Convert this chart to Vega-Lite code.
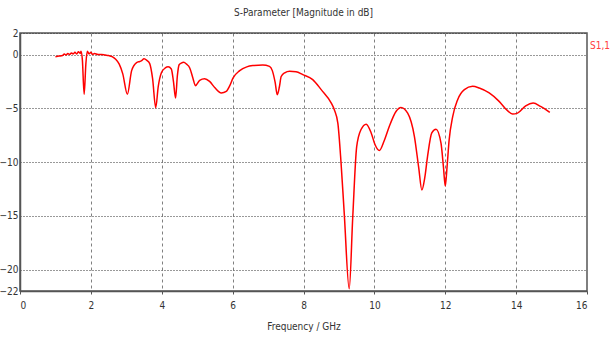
{
  "$schema": "https://vega.github.io/schema/vega-lite/v6.json",
  "width": 567,
  "height": 258,
  "autosize": {"type": "none"},
  "padding": {"left": 20, "top": 33, "right": 24, "bottom": 46},
  "background": "white",
  "config": {
    "font": "Liberation Sans Narrow, DejaVu Sans Condensed, sans-serif",
    "view": {"stroke": "#555555", "strokeWidth": 1.5}
  },
  "title": {
    "text": "S-Parameter [Magnitude in dB]",
    "fontSize": 10,
    "fontWeight": "normal",
    "color": "#333333",
    "anchor": "middle",
    "offset": 10
  },
  "data": {
    "values": [
      {"f": 1.0, "db": -0.2, "s": "S1,1"},
      {"f": 1.1, "db": -0.15, "s": "S1,1"},
      {"f": 1.2, "db": -0.1, "s": "S1,1"},
      {"f": 1.25, "db": 0.05, "s": "S1,1"},
      {"f": 1.3, "db": -0.05, "s": "S1,1"},
      {"f": 1.35, "db": 0.1, "s": "S1,1"},
      {"f": 1.4, "db": 0.0, "s": "S1,1"},
      {"f": 1.45, "db": 0.15, "s": "S1,1"},
      {"f": 1.5, "db": 0.05, "s": "S1,1"},
      {"f": 1.55, "db": 0.2, "s": "S1,1"},
      {"f": 1.6, "db": 0.05, "s": "S1,1"},
      {"f": 1.65, "db": 0.25, "s": "S1,1"},
      {"f": 1.7, "db": 0.1, "s": "S1,1"},
      {"f": 1.72, "db": 0.3, "s": "S1,1"},
      {"f": 1.76, "db": -0.5, "s": "S1,1"},
      {"f": 1.81, "db": -3.7, "s": "S1,1"},
      {"f": 1.86, "db": -0.8, "s": "S1,1"},
      {"f": 1.9, "db": 0.3, "s": "S1,1"},
      {"f": 1.95, "db": 0.05, "s": "S1,1"},
      {"f": 2.0, "db": 0.2, "s": "S1,1"},
      {"f": 2.05, "db": 0.0, "s": "S1,1"},
      {"f": 2.1, "db": 0.1, "s": "S1,1"},
      {"f": 2.2, "db": 0.0, "s": "S1,1"},
      {"f": 2.3, "db": 0.0, "s": "S1,1"},
      {"f": 2.4, "db": -0.05, "s": "S1,1"},
      {"f": 2.5, "db": -0.1, "s": "S1,1"},
      {"f": 2.6, "db": -0.2, "s": "S1,1"},
      {"f": 2.7, "db": -0.45, "s": "S1,1"},
      {"f": 2.8, "db": -0.9, "s": "S1,1"},
      {"f": 2.9, "db": -1.8, "s": "S1,1"},
      {"f": 3.03, "db": -3.7, "s": "S1,1"},
      {"f": 3.15, "db": -1.5, "s": "S1,1"},
      {"f": 3.29, "db": -0.75, "s": "S1,1"},
      {"f": 3.38, "db": -0.65, "s": "S1,1"},
      {"f": 3.42, "db": -0.6, "s": "S1,1"},
      {"f": 3.5, "db": -0.4, "s": "S1,1"},
      {"f": 3.58, "db": -0.55, "s": "S1,1"},
      {"f": 3.66, "db": -0.85, "s": "S1,1"},
      {"f": 3.74, "db": -2.2, "s": "S1,1"},
      {"f": 3.83, "db": -4.95, "s": "S1,1"},
      {"f": 3.9, "db": -3.0, "s": "S1,1"},
      {"f": 3.99, "db": -1.7, "s": "S1,1"},
      {"f": 4.1, "db": -1.25, "s": "S1,1"},
      {"f": 4.18, "db": -1.15, "s": "S1,1"},
      {"f": 4.27, "db": -1.35, "s": "S1,1"},
      {"f": 4.33, "db": -2.5, "s": "S1,1"},
      {"f": 4.39, "db": -4.05, "s": "S1,1"},
      {"f": 4.44, "db": -2.0, "s": "S1,1"},
      {"f": 4.49, "db": -0.95, "s": "S1,1"},
      {"f": 4.55, "db": -0.8, "s": "S1,1"},
      {"f": 4.62, "db": -0.72, "s": "S1,1"},
      {"f": 4.7, "db": -0.9, "s": "S1,1"},
      {"f": 4.79, "db": -1.25, "s": "S1,1"},
      {"f": 4.88, "db": -2.2, "s": "S1,1"},
      {"f": 4.95, "db": -2.9, "s": "S1,1"},
      {"f": 5.07, "db": -2.4, "s": "S1,1"},
      {"f": 5.21, "db": -2.25, "s": "S1,1"},
      {"f": 5.35, "db": -2.5, "s": "S1,1"},
      {"f": 5.5, "db": -3.1, "s": "S1,1"},
      {"f": 5.68, "db": -3.58, "s": "S1,1"},
      {"f": 5.82, "db": -3.43, "s": "S1,1"},
      {"f": 5.92, "db": -2.9, "s": "S1,1"},
      {"f": 6.01, "db": -2.2, "s": "S1,1"},
      {"f": 6.2, "db": -1.5, "s": "S1,1"},
      {"f": 6.4, "db": -1.15, "s": "S1,1"},
      {"f": 6.57, "db": -1.03, "s": "S1,1"},
      {"f": 6.85, "db": -0.97, "s": "S1,1"},
      {"f": 7.04, "db": -1.1, "s": "S1,1"},
      {"f": 7.12, "db": -1.5, "s": "S1,1"},
      {"f": 7.2, "db": -2.6, "s": "S1,1"},
      {"f": 7.26, "db": -3.74, "s": "S1,1"},
      {"f": 7.32, "db": -3.0, "s": "S1,1"},
      {"f": 7.37, "db": -2.05, "s": "S1,1"},
      {"f": 7.47, "db": -1.7, "s": "S1,1"},
      {"f": 7.61, "db": -1.56, "s": "S1,1"},
      {"f": 7.79, "db": -1.6, "s": "S1,1"},
      {"f": 7.98, "db": -1.87, "s": "S1,1"},
      {"f": 8.26, "db": -2.34, "s": "S1,1"},
      {"f": 8.5, "db": -3.27, "s": "S1,1"},
      {"f": 8.78, "db": -4.5, "s": "S1,1"},
      {"f": 8.87, "db": -5.14, "s": "S1,1"},
      {"f": 8.97, "db": -6.4, "s": "S1,1"},
      {"f": 9.06, "db": -10.1, "s": "S1,1"},
      {"f": 9.15, "db": -14.8, "s": "S1,1"},
      {"f": 9.29, "db": -21.8, "s": "S1,1"},
      {"f": 9.39, "db": -15.1, "s": "S1,1"},
      {"f": 9.5, "db": -8.6, "s": "S1,1"},
      {"f": 9.62, "db": -7.0, "s": "S1,1"},
      {"f": 9.77, "db": -6.48, "s": "S1,1"},
      {"f": 9.91, "db": -7.3, "s": "S1,1"},
      {"f": 10.02, "db": -8.4, "s": "S1,1"},
      {"f": 10.14, "db": -8.94, "s": "S1,1"},
      {"f": 10.28, "db": -8.0, "s": "S1,1"},
      {"f": 10.42, "db": -6.7, "s": "S1,1"},
      {"f": 10.61, "db": -5.3, "s": "S1,1"},
      {"f": 10.75, "db": -4.92, "s": "S1,1"},
      {"f": 10.94, "db": -5.45, "s": "S1,1"},
      {"f": 11.13, "db": -7.63, "s": "S1,1"},
      {"f": 11.25, "db": -10.5, "s": "S1,1"},
      {"f": 11.34, "db": -12.6, "s": "S1,1"},
      {"f": 11.42, "db": -11.5, "s": "S1,1"},
      {"f": 11.5, "db": -9.5, "s": "S1,1"},
      {"f": 11.62, "db": -7.3, "s": "S1,1"},
      {"f": 11.74, "db": -6.95, "s": "S1,1"},
      {"f": 11.88, "db": -8.25, "s": "S1,1"},
      {"f": 11.95, "db": -10.5, "s": "S1,1"},
      {"f": 12.0, "db": -12.24, "s": "S1,1"},
      {"f": 12.05, "db": -10.5, "s": "S1,1"},
      {"f": 12.11, "db": -7.94, "s": "S1,1"},
      {"f": 12.21, "db": -5.77, "s": "S1,1"},
      {"f": 12.35, "db": -4.2, "s": "S1,1"},
      {"f": 12.54, "db": -3.27, "s": "S1,1"},
      {"f": 12.77, "db": -2.96, "s": "S1,1"},
      {"f": 12.96, "db": -3.12, "s": "S1,1"},
      {"f": 13.24, "db": -3.58, "s": "S1,1"},
      {"f": 13.52, "db": -4.36, "s": "S1,1"},
      {"f": 13.75, "db": -5.2, "s": "S1,1"},
      {"f": 13.9, "db": -5.54, "s": "S1,1"},
      {"f": 14.04, "db": -5.45, "s": "S1,1"},
      {"f": 14.27, "db": -4.77, "s": "S1,1"},
      {"f": 14.48, "db": -4.51, "s": "S1,1"},
      {"f": 14.69, "db": -4.83, "s": "S1,1"},
      {"f": 14.95, "db": -5.39, "s": "S1,1"}
    ]
  },
  "mark": {"type": "line", "interpolate": "monotone", "strokeWidth": 1.5, "clip": true},
  "encoding": {
    "x": {
      "field": "f",
      "type": "quantitative",
      "scale": {"domain": [0, 16], "nice": false, "zero": false},
      "axis": {
        "title": "Frequency / GHz",
        "values": [0, 2, 4, 6, 8, 10, 12, 14, 16],
        "format": "d",
        "grid": true,
        "gridColor": "#808080",
        "gridDash": [3, 3],
        "gridWidth": 1,
        "domainColor": "#555555",
        "domainWidth": 1.5,
        "tickColor": "#555555",
        "tickSize": 3,
        "labelFontSize": 10,
        "labelColor": "#333333",
        "labelPadding": 6,
        "titleFontSize": 10,
        "titleFontWeight": "normal",
        "titleColor": "#333333",
        "titlePadding": 11
      }
    },
    "y": {
      "field": "db",
      "type": "quantitative",
      "scale": {"domain": [-22, 2], "nice": false, "zero": false},
      "axis": {
        "title": null,
        "values": [2, 0, -5, -10, -15, -20, -22],
        "format": "d",
        "grid": true,
        "gridColor": "#333333",
        "gridDash": [1, 2],
        "gridWidth": 1,
        "domainColor": "#555555",
        "domainWidth": 1.5,
        "ticks": false,
        "labelFontSize": 10,
        "labelColor": "#333333",
        "labelPadding": 2
      }
    },
    "color": {
      "field": "s",
      "type": "nominal",
      "scale": {"range": ["#ff0000"]},
      "legend": {
        "title": null,
        "orient": "none",
        "legendX": 560,
        "legendY": 8,
        "padding": 0,
        "symbolSize": 0,
        "symbolStrokeWidth": 0,
        "symbolOpacity": 0,
        "labelOffset": 0,
        "labelColor": "#ff4040",
        "labelFontSize": 10
      }
    }
  }
}
